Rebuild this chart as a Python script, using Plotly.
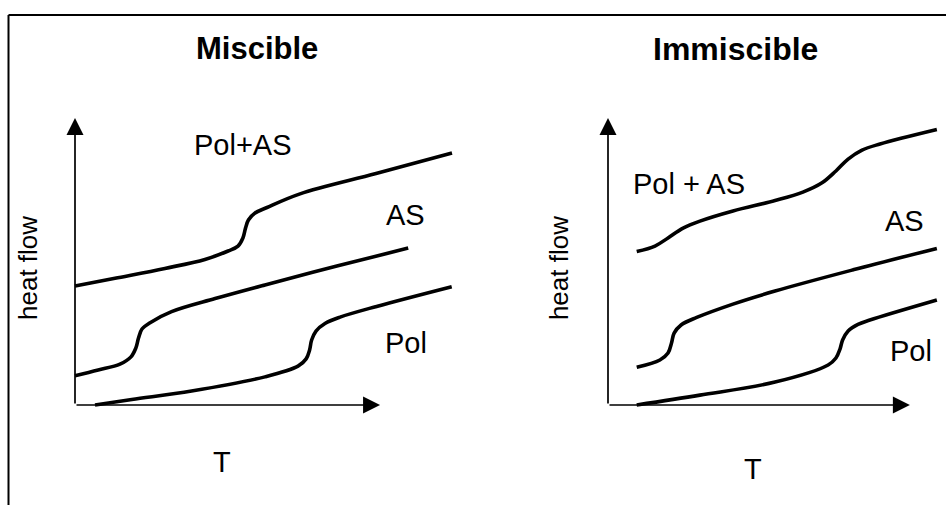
import plotly.graph_objects as go

# ---------------- data (arbitrary units, axis origin = 0) ----------------
# Miscible panel
mis_polas_T  = [0.00, 1.38, 3.10, 4.48, 5.28, 5.62, 5.79, 5.88, 5.98, 6.21, 6.62, 7.76, 10.38, 13.00]
mis_polas_HF = [4.10, 4.37, 4.71, 5.02, 5.31, 5.48, 5.76, 6.10, 6.38, 6.62, 6.81, 7.28, 7.98, 8.69]
mis_as_T     = [0.00, 0.80, 1.55, 1.93, 2.10, 2.19, 2.31, 2.59, 3.33, 4.83, 6.55, 9.03, 11.49]
mis_as_HF    = [1.01, 1.21, 1.41, 1.66, 1.97, 2.31, 2.62, 2.84, 3.22, 3.67, 4.14, 4.79, 5.41]
mis_pol_T    = [0.69, 1.96, 4.02, 6.55, 7.69, 7.97, 8.09, 8.16, 8.31, 8.62, 9.14, 10.40, 12.99]
mis_pol_HF   = [0.00, 0.19, 0.48, 0.97, 1.34, 1.59, 1.90, 2.24, 2.55, 2.81, 3.03, 3.40, 4.08]

# Immiscible panel
imm_polas_T  = [0.99, 1.62, 2.07, 2.59, 3.17, 4.31, 5.76, 6.72, 7.38, 7.86, 8.28, 8.76, 9.38, 11.34]
imm_polas_HF = [5.29, 5.48, 5.76, 6.10, 6.34, 6.69, 7.05, 7.34, 7.66, 8.07, 8.48, 8.79, 9.00, 9.50]
imm_as_T     = [0.99, 1.79, 2.07, 2.19, 2.28, 2.52, 3.06, 4.31, 5.76, 8.45, 11.34]
imm_as_HF    = [1.30, 1.55, 1.79, 2.14, 2.48, 2.76, 3.02, 3.48, 3.93, 4.66, 5.40]
imm_pol_T    = [0.99, 3.17, 5.76, 7.59, 7.86, 8.00, 8.09, 8.28, 8.62, 9.03, 11.34]
imm_pol_HF   = [0.00, 0.34, 0.79, 1.38, 1.62, 1.93, 2.24, 2.55, 2.78, 2.93, 3.62]

panel_titles = ["Miscible", "Immiscible"]
axis_T_end = [10.52, 10.41]     # arrow tip of the T axis
axis_HF_end = 9.90              # arrow tip of the heat-flow axis

# labels: (text, T, HF)
mis_labels = [("Pol+AS", 5.78, 8.98), ("AS", 11.38, 6.55), ("Pol", 11.41, 2.14)]
imm_labels = [("Pol + AS", 2.79, 7.62), ("AS", 10.21, 6.34), ("Pol", 10.45, 1.86)]

# ---------------- figure ----------------
W, H = 946, 505
FONT = "Liberation Sans, Arial, Helvetica, sans-serif"

fig = go.Figure()

line_style = dict(color="black", width=3.6, shape="spline", smoothing=1.0)
panels = [
    ("x", "y", [(mis_polas_T, mis_polas_HF), (mis_as_T, mis_as_HF), (mis_pol_T, mis_pol_HF)]),
    ("x2", "y2", [(imm_polas_T, imm_polas_HF), (imm_as_T, imm_as_HF), (imm_pol_T, imm_pol_HF)]),
]
for xa, ya, curves in panels:
    for t, hf in curves:
        fig.add_trace(go.Scatter(x=t, y=hf, mode="lines", line=line_style,
                                 xaxis=xa, yaxis=ya, showlegend=False, hoverinfo="skip"))

annotations = []
for i, (xa, ya, _) in enumerate(panels):
    # axis arrows
    annotations.append(dict(x=axis_T_end[i], y=0, ax=0, ay=0, xref=xa, yref=ya, axref=xa, ayref=ya,
                            text="", showarrow=True, arrowhead=2, arrowsize=2.0, arrowwidth=1.7,
                            arrowcolor="black"))
    annotations.append(dict(x=0, y=axis_HF_end, ax=0, ay=0, xref=xa, yref=ya, axref=xa, ayref=ya,
                            text="", showarrow=True, arrowhead=2, arrowsize=2.0, arrowwidth=1.7,
                            arrowcolor="black"))

# titles
annotations.append(dict(x=6.26, y=12.28, xref="x", yref="y", text="<b>" + panel_titles[0] + "</b>",
                        showarrow=False, font=dict(family=FONT, size=31, color="black")))
annotations.append(dict(x=4.41, y=12.28, xref="x2", yref="y2", text="<b>" + panel_titles[1] + "</b>",
                        showarrow=False, font=dict(family=FONT, size=32, color="black")))

for xa, ya, labels, tpos, hfpos in [("x", "y", mis_labels, (5.07, -1.97), (-1.64, 4.74)),
                                     ("x2", "y2", imm_labels, (5.00, -2.21), (-1.69, 4.72))]:
    for txt, t, hf in labels:
        annotations.append(dict(x=t, y=hf, xref=xa, yref=ya, text=txt, showarrow=False,
                                font=dict(family=FONT, size=29, color="black")))
    annotations.append(dict(x=tpos[0], y=tpos[1], xref=xa, yref=ya, text="T", showarrow=False,
                            font=dict(family=FONT, size=29, color="black")))
    annotations.append(dict(x=hfpos[0], y=hfpos[1], xref=xa, yref=ya, text="heat flow", showarrow=False,
                            textangle=-90, font=dict(family=FONT, size=26, color="black")))

UNIT = 29.0
hidden = dict(showgrid=False, zeroline=False, showticklabels=False, showline=False, ticks="",
              fixedrange=True)
fig.update_layout(
    width=W, height=H, margin=dict(l=0, r=0, t=0, b=0),
    paper_bgcolor="white", plot_bgcolor="white",
    xaxis=dict(domain=[0, 0.5], range=[-75 / UNIT, 398 / UNIT], **hidden),
    xaxis2=dict(domain=[0.5, 1], range=[-135 / UNIT, 338 / UNIT], anchor="y2", **hidden),
    yaxis=dict(domain=[0, 1], range=[-100 / UNIT, 405 / UNIT], anchor="x", **hidden),
    yaxis2=dict(domain=[0, 1], range=[-100 / UNIT, 405 / UNIT], anchor="x2", **hidden),
    annotations=annotations,
    shapes=[
        dict(type="line", xref="paper", yref="paper", x0=8.5 / W, x1=1, y0=1 - 15 / H, y1=1 - 15 / H,
             line=dict(color="black", width=2)),
        dict(type="line", xref="paper", yref="paper", x0=8.5 / W, x1=8.5 / W, y0=0, y1=1 - 15 / H,
             line=dict(color="black", width=2)),
    ],
)

fig.write_html("out.html", config={"displayModeBar": False},
               post_script="document.body.style.margin='0px';document.body.style.overflow='hidden';")
